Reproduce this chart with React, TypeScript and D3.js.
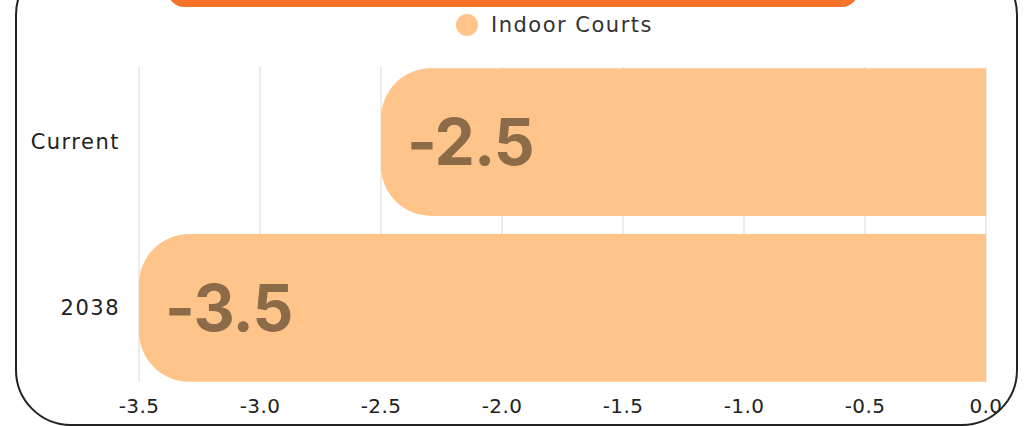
import React from "react";
import * as d3 from "d3";

const categories = ["Current", "2038"];
const indoorCourts = [-2.5, -3.5];
const xTicks = [-3.5, -3.0, -2.5, -2.0, -1.5, -1.0, -0.5, 0.0];
const seriesName = "Indoor Courts";

const W = 1026;
const H = 426;
const barColor = "#ffc48a";
const font = "'DejaVu Sans', sans-serif";

// rounded on the left end only, square at zero
function barPath(x0: number, x1: number, y: number, h: number, r: number) {
  const rr = Math.min(r, h / 2, x1 - x0);
  return `M${x1},${y} L${x0 + rr},${y} A${rr},${rr} 0 0 0 ${x0},${y + rr} L${x0},${y + h - rr} A${rr},${rr} 0 0 0 ${x0 + rr},${y + h} L${x1},${y + h} Z`;
}

export default function App() {
  const x = d3.scaleLinear().domain([-3.5, 0]).range([139, 986]);
  const y = d3.scaleBand<string>().domain(categories).range([60, 390]).paddingInner(0.11).paddingOuter(0.05);
  const bw = y.bandwidth();

  return (
    <div style={{ position: "fixed", left: 0, top: 0, background: "#fff" }}>
      <svg width={W} height={H} style={{ display: "block" }}>
        <rect x={0} y={0} width={W} height={H} fill="#fff" />
        {/* card border */}
        <rect x={16} y={-40} width={1001} height={465} rx={55} ry={55} fill="none" stroke="#222" strokeWidth={2} />
        {/* title bar (cut off at top) */}
        <rect x={168} y={-40} width={690} height={47} rx={16} ry={16} fill="#f7732a" />

        {/* legend */}
        <circle cx={467} cy={25} r={11} fill={barColor} />
        <text x={491} y={32} fontFamily={font} fontSize={21} letterSpacing={1.5} fill="#333">{seriesName}</text>

        {/* grid */}
        {xTicks.map((t) => (
          <line key={t} x1={x(t)} x2={x(t)} y1={67} y2={382} stroke="#d9d9d9" strokeWidth={1} />
        ))}

        {/* bars */}
        {categories.map((c, i) => {
          const v = indoorCourts[i];
          const top = y(c)!;
          return (
            <g key={c}>
              <path d={barPath(x(v), x(0), top, bw, 50)} fill={barColor} />
              <text x={x(v) + 26} y={top + bw / 2} dy="0.36em" fontFamily="Inter, Roboto, sans-serif" fontWeight={700}
                fontSize={64} fill="#8c6b49" letterSpacing={-1}>{v.toFixed(1)}</text>
              <text x={120} y={top + bw / 2} dy="0.35em" textAnchor="end" fontFamily={font} fontSize={21} letterSpacing={1.5} fill="#222">{c}</text>
            </g>
          );
        })}

        {/* x axis labels */}
        {xTicks.map((t) => (
          <text key={t} x={x(t)} y={413} textAnchor="middle" fontFamily={font} fontSize={20} letterSpacing={0.4} fill="#222">{t.toFixed(1)}</text>
        ))}
      </svg>
    </div>
  );
}
